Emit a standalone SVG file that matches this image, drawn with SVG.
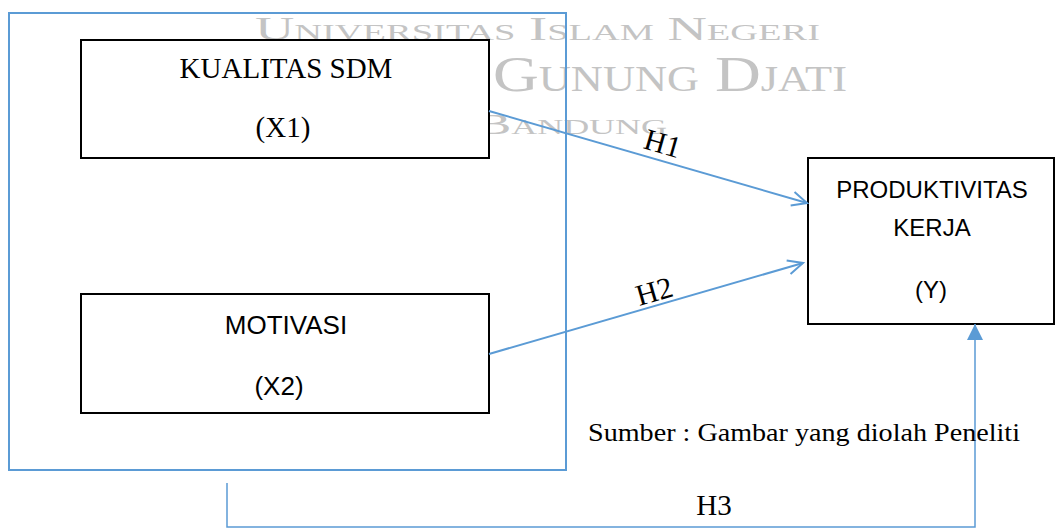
<svg xmlns="http://www.w3.org/2000/svg" width="1058" height="529" viewBox="0 0 1058 529">
  <style>
    .wm { font-family: "Liberation Serif", "DejaVu Serif", serif; font-variant: small-caps; fill: #c4c4c4; }
    .box { fill: #ffffff; stroke: #000000; stroke-width: 2; }
    .group { fill: none; stroke: #5B9BD5; stroke-width: 2; }
    .serif { font-family: "Liberation Serif", "Times New Roman", serif; fill: #000000; }
    .sans { font-family: "Liberation Sans", Arial, sans-serif; fill: #000000; }
    .conn { fill: none; stroke: #5B9BD5; stroke-width: 2; }
    .conn3 { fill: none; stroke: #5B9BD5; stroke-width: 1.5; }
  </style>
  <defs>
    <marker id="openArrow" viewBox="0 0 20 16" markerWidth="20" markerHeight="16" refX="17" refY="8" orient="auto" markerUnits="userSpaceOnUse">
      <path d="M2,1 L17,8 L2,15" fill="none" stroke="#5B9BD5" stroke-width="2"/>
    </marker>
    <marker id="solidArrow" viewBox="0 0 16 16" markerWidth="16" markerHeight="16" refX="16" refY="8" orient="auto" markerUnits="userSpaceOnUse">
      <path d="M0,0 L16,8 L0,16 z" fill="#5B9BD5"/>
    </marker>
  </defs>
  <rect x="0" y="0" width="1058" height="529" fill="#ffffff"/>

  <g id="watermark">
    <text class="wm" x="255" y="40" font-size="34" textLength="565" lengthAdjust="spacingAndGlyphs">Universitas Islam Negeri</text>
    <text class="wm" x="493" y="91" font-size="50" textLength="354" lengthAdjust="spacingAndGlyphs">Gunung Djati</text>
    <text class="wm" x="477" y="134" font-size="30" textLength="190" lengthAdjust="spacingAndGlyphs">Bandung</text>
  </g>

  <g id="group-x">
    <rect class="group" x="9" y="13" width="557" height="457"/>
  </g>

  <g id="node-x1">
    <rect class="box" x="81" y="40" width="408" height="118"/>
    <text class="serif" x="286" y="78" font-size="29" text-anchor="middle">KUALITAS SDM</text>
    <text class="serif" x="283" y="137" font-size="29" text-anchor="middle">(X1)</text>
  </g>

  <g id="node-x2">
    <rect class="box" x="81" y="294" width="408" height="119"/>
    <text class="sans" x="286" y="334" font-size="26" text-anchor="middle">MOTIVASI</text>
    <text class="sans" x="279" y="395" font-size="26" text-anchor="middle">(X2)</text>
  </g>

  <g id="node-y">
    <rect class="box" x="808" y="158" width="246" height="166"/>
    <text class="sans" x="932" y="198" font-size="24" text-anchor="middle">PRODUKTIVITAS</text>
    <text class="sans" x="932" y="236" font-size="24" text-anchor="middle">KERJA</text>
    <text class="sans" x="931" y="298" font-size="24" text-anchor="middle">(Y)</text>
  </g>

  <g id="connectors">
    <line class="conn" x1="489" y1="111" x2="807" y2="203" marker-end="url(#openArrow)"/>
    <line class="conn" x1="489" y1="354" x2="803" y2="263" marker-end="url(#openArrow)"/>
    <path class="conn3" d="M227,483 V527 H975 V324" marker-end="url(#solidArrow)"/>
    <text class="serif" x="660" y="153" font-size="30" text-anchor="middle" transform="rotate(16 660 153)">H1</text>
    <text class="serif" x="657" y="301" font-size="30" text-anchor="middle" transform="rotate(-16 657 301)">H2</text>
    <text class="serif" x="714" y="515" font-size="29" text-anchor="middle">H3</text>
  </g>

  <g id="caption">
    <text class="serif" x="588" y="441" font-size="26" textLength="432" lengthAdjust="spacingAndGlyphs">Sumber : Gambar yang diolah Peneliti</text>
  </g>
</svg>
